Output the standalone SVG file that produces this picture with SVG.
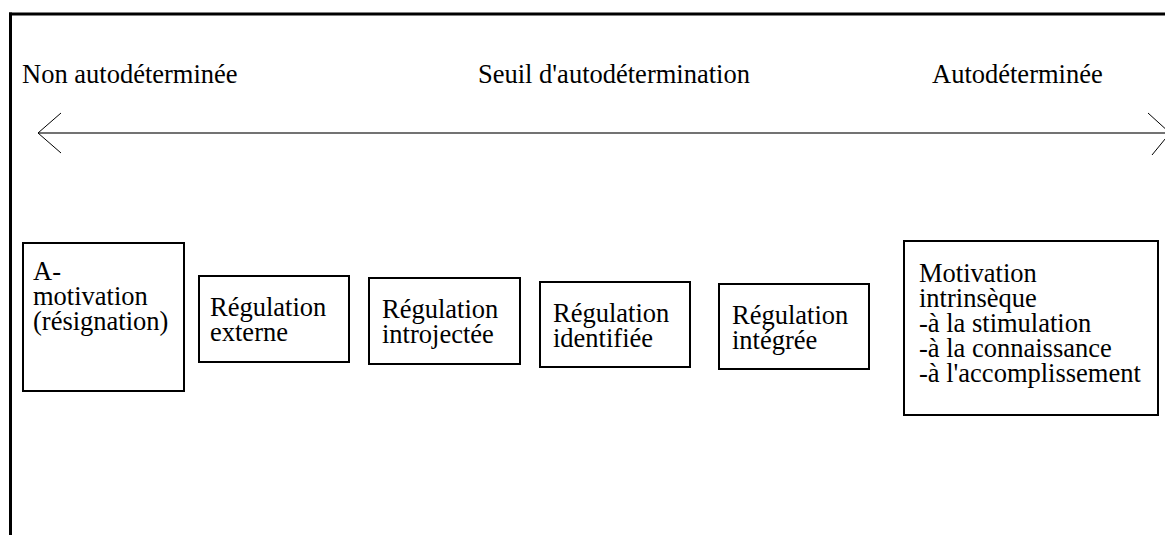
<svg xmlns="http://www.w3.org/2000/svg" width="1165" height="535" viewBox="0 0 1165 535">
<style>
text { font-family: "Liberation Serif", "Times New Roman", serif; font-size: 26.5px; fill: #000; }
.box { fill: #fff; stroke: #000; stroke-width: 2; }
.frame { stroke: #000; stroke-width: 3; fill: none; }
.axis { stroke: #444; stroke-width: 1.5; fill: none; }
.head { stroke: #000; stroke-width: 1; fill: none; }
</style>
<rect width="1165" height="535" fill="#fff"/>
<g id="frame">
<line class="frame" x1="9" y1="14" x2="1165" y2="14"/>
<line class="frame" x1="10.5" y1="12.5" x2="10.5" y2="535"/>
</g>
<g id="labels">
<text x="22" y="83">Non autodéterminée</text>
<text x="478" y="83">Seuil d'autodétermination</text>
<text x="932" y="83">Autodéterminée</text>
</g>
<g id="connectors">
<line class="axis" x1="38" y1="133" x2="1165" y2="133"/>
<polyline class="head" points="61,113 38,133 61,153"/>
<polyline class="head" points="1148,113 1170,133 1152,155"/>
</g>
<g id="amotivation">
<rect class="box" x="23" y="243" width="161" height="148"/>
<text x="33" y="280"><tspan x="33">A-</tspan><tspan x="33" dy="25">motivation</tspan><tspan x="33" dy="25">(résignation)</tspan></text>
</g>
<g id="reg-externe">
<rect class="box" x="199" y="276" width="150" height="86"/>
<text x="210" y="316"><tspan x="210">Régulation</tspan><tspan x="210" dy="25">externe</tspan></text>
</g>
<g id="reg-introjectee">
<rect class="box" x="369" y="278" width="151" height="86"/>
<text x="382" y="318"><tspan x="382">Régulation</tspan><tspan x="382" dy="25">introjectée</tspan></text>
</g>
<g id="reg-identifiee">
<rect class="box" x="540" y="282" width="150" height="85"/>
<text x="553" y="322"><tspan x="553">Régulation</tspan><tspan x="553" dy="25">identifiée</tspan></text>
</g>
<g id="reg-integree">
<rect class="box" x="719" y="284" width="150" height="85"/>
<text x="732" y="324"><tspan x="732">Régulation</tspan><tspan x="732" dy="25">intégrée</tspan></text>
</g>
<g id="intrinseque">
<rect class="box" x="904" y="241" width="254" height="174"/>
<text x="919" y="282"><tspan x="919">Motivation</tspan><tspan x="919" dy="25">intrinsèque</tspan><tspan x="919" dy="25">-à la stimulation</tspan><tspan x="919" dy="25">-à la connaissance</tspan><tspan x="919" dy="25">-à l'accomplissement</tspan></text>
</g>
</svg>
